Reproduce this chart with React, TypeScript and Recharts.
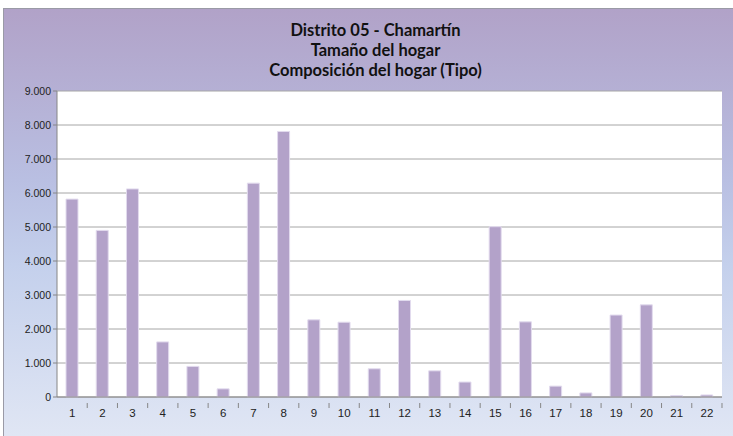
import React from 'react'
import { BarChart, Bar, XAxis, YAxis, CartesianGrid } from 'recharts'

const categories = ['1', '2', '3', '4', '5', '6', '7', '8', '9', '10', '11', '12', '13', '14', '15', '16', '17', '18', '19', '20', '21', '22']
const hogares = [5820, 4900, 6120, 1620, 900, 240, 6290, 7810, 2270, 2200, 830, 2840, 770, 440, 5010, 2210, 320, 120, 2410, 2710, 40, 60]
const yTicks = [0, 1000, 2000, 3000, 4000, 5000, 6000, 7000, 8000, 9000]
const titleLines = ['Distrito 05 - Chamartín', 'Tamaño del hogar', 'Composición del hogar (Tipo)']

const data = categories.map((c, i) => ({ tipo: c, valor: hogares[i] }))

const W = 729
const H = 427
const PLOT_W = 665
const BAND = PLOT_W / categories.length

// miles con punto, estilo es-ES
const fmt = (v: number) => String(v).replace(/\B(?=(\d{3})+(?!\d))/g, '.')

const XTick = (props: any) => {
  const { x, y, payload } = props
  return (
    <g transform={`translate(${x},${y})`}>
      <line x1={BAND / 2} y1={-2} x2={BAND / 2} y2={3} stroke="#868686" />
      <text x={0} y={0} dy={12} textAnchor="middle" fontSize={11.5} fill="#222" fontFamily="'Liberation Sans', Arial, sans-serif">
        {payload.value}
      </text>
    </g>
  )
}

export default function App() {
  return (
    <div
      style={{
        position: 'absolute',
        left: 3,
        top: 8,
        width: W,
        height: H,
        borderLeft: '1px solid #9a9aa6',
        borderTop: '1px solid #9a9aa6',
        background: 'linear-gradient(180deg, #b1a2c8 0%, #b9bfe2 40%, #c4d0ec 60%, #e0e6f4 100%)',
      }}
    >
      <div
        style={{
          position: 'absolute',
          left: 0,
          top: 11,
          width: W + 14,
          textAlign: 'center',
          fontFamily: 'Lato, "Open Sans", sans-serif',
          fontWeight: 700,
          fontSize: 16.5,
          lineHeight: '20px',
          color: '#111',
        }}
      >
        {titleLines.map(t => (
          <div key={t}>{t}</div>
        ))}
      </div>
      <BarChart width={W} height={H} data={data} margin={{ top: 82, right: 11, left: 8, bottom: 14 }}>
        <CartesianGrid vertical={false} stroke="#a6a6a6" fill="#ffffff" />
        <XAxis
          dataKey="tipo"
          tick={<XTick />}
          tickLine={false}
          axisLine={{ stroke: '#868686' }}
          height={25}
          interval={0}
        />
        <YAxis
          domain={[0, 9000]}
          ticks={yTicks}
          tickFormatter={fmt}
          width={45}
          tickSize={4}
          tickLine={{ stroke: '#868686' }}
          axisLine={{ stroke: '#868686' }}
          tick={{ fontSize: 10.5, fill: '#222', fontFamily: "'Liberation Sans', Arial, sans-serif" }}
          interval={0}
        />
        <Bar dataKey="valor" fill="#b3a2c9" stroke="#e2dbee" strokeWidth={1} barSize={12} isAnimationActive={false} />
      </BarChart>
    </div>
  )
}
